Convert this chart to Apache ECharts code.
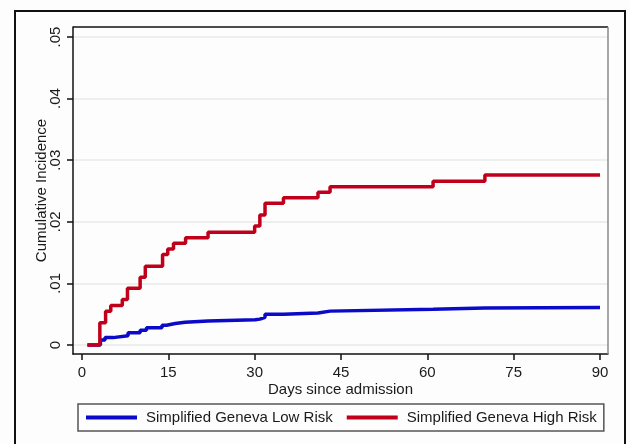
<!DOCTYPE html>
<html>
<head>
<meta charset="utf-8">
<script src="https://cdn.jsdelivr.net/npm/echarts@6/dist/echarts.min.js"></script>
<style>
html,body{margin:0;padding:0;background:#fdfdfd;}
#c{width:630px;height:444px;}
</style>
</head>
<body>
<div id="c"></div>
<script>
var seriesNames = ['Simplified Geneva Low Risk', 'Simplified Geneva High Risk'];
var xTicks = [0, 15, 30, 45, 60, 75, 90];
var yTicks = [0, 0.01, 0.02, 0.03, 0.04, 0.05];
var yTickLabels = ['0', '.01', '.02', '.03', '.04', '.05'];
// [days, cumulative incidence] at each event (step after)
var lowRisk = [
  [1, 0], [3.2, 0.0008], [4.0, 0.0012], [5.4, 0.0015], [8.0, 0.0020], [10.1, 0.0024],
  [11.2, 0.0028], [13.9, 0.0032], [14.7, 0.0035], [16.2, 0.0037], [17.9, 0.0039],
  [21.9, 0.0041], [30.1, 0.0042], [30.9, 0.0045], [31.8, 0.0050], [35.0, 0.0052],
  [41.0, 0.0055], [43.1, 0.0058], [61.0, 0.0060], [70.0, 0.0061], [90, 0.0061]
];
var highRisk = [
  [0.9, 0], [3.1, 0.0036], [4.1, 0.0055], [5.0, 0.0064], [7.0, 0.0074], [7.9, 0.0092],
  [10.1, 0.0110], [11.0, 0.0128], [14.0, 0.0147], [14.9, 0.0156], [15.9, 0.0165],
  [18.0, 0.0174], [21.9, 0.0183], [30.0, 0.0193], [30.9, 0.0211], [31.8, 0.0230],
  [35.0, 0.0239], [41.0, 0.0248], [43.1, 0.0257], [61.0, 0.0266], [70.0, 0.0276], [90, 0.0276]
];

var chart = echarts.init(document.getElementById('c'));
var txt = '#1a1a1a';
var font = 'Liberation Sans, Arial, sans-serif';
chart.setOption({
  backgroundColor: '#fdfdfd',
  animation: false,
  textStyle: { fontFamily: font },
  grid: { left: 73, right: 22, top: 27, bottom: 90, containLabel: false },
  graphic: [
    { type: 'rect', shape: { x: 15, y: 11, width: 610, height: 445 }, style: { fill: 'none', stroke: '#111', lineWidth: 2 }, silent: true },
    { type: 'polyline', shape: { points: [[73, 27], [608, 27]] }, style: { fill: 'none', stroke: '#111', lineWidth: 1.5 }, silent: true },
    { type: 'polyline', shape: { points: [[608, 27], [608, 354]] }, style: { fill: 'none', stroke: '#888', lineWidth: 1.5 }, silent: true, z: 5 }
  ],
  legend: {
    left: 78, top: 404,
    data: seriesNames,
    icon: 'rect',
    itemWidth: 51, itemHeight: 4, itemGap: 14,
    padding: [6, 7, 6, 8],
    borderColor: '#555', borderWidth: 1.5,
    textStyle: { fontSize: 15, color: txt, fontFamily: font, padding: [0, 0, 0, 4] }
  },
  xAxis: {
    type: 'value', min: -1.564, max: 91.39,
    name: 'Days since admission', nameLocation: 'middle', nameGap: 28, nameMoveOverlap: false,
    nameTextStyle: { fontSize: 15, color: txt },
    axisLine: { show: true, onZero: false, lineStyle: { color: '#111', width: 1.5 } },
    axisTick: { show: true, length: 6, customValues: xTicks, lineStyle: { color: '#111', width: 1.5 } },
    axisLabel: { fontSize: 15, color: txt, margin: 11, customValues: xTicks, formatter: function (v) { return String(Math.round(v)); } },
    splitLine: { show: false }
  },
  yAxis: {
    type: 'value', min: -0.00146, max: 0.051623,
    name: 'Cumulative Incidence', nameLocation: 'middle', nameGap: 24, nameRotate: 90, nameMoveOverlap: false,
    nameTextStyle: { fontSize: 15, color: txt },
    axisLine: { show: true, onZero: false, lineStyle: { color: '#111', width: 1.5 } },
    axisTick: { show: true, length: 6, customValues: yTicks, lineStyle: { color: '#111', width: 1.5 } },
    axisLabel: { fontSize: 15, color: txt, margin: 10, rotate: 90, customValues: yTicks,
      formatter: function (v) { return yTickLabels[Math.round(v * 100)]; } },
    splitLine: { show: true, lineStyle: { color: '#e6eae6', width: 1.5 } }
  },
  series: [
    { name: seriesNames[0], type: 'line', step: 'end', data: lowRisk, showSymbol: false, symbol: 'none',
      color: '#0a0ac8', lineStyle: { color: '#0a0ac8', width: 3.5 }, z: 3 },
    { name: seriesNames[1], type: 'line', step: 'end', data: highRisk, showSymbol: false, symbol: 'none',
      color: '#c0001a', lineStyle: { color: '#c0001a', width: 3.5 }, z: 4 }
  ]
});
</script>
</body>
</html>
